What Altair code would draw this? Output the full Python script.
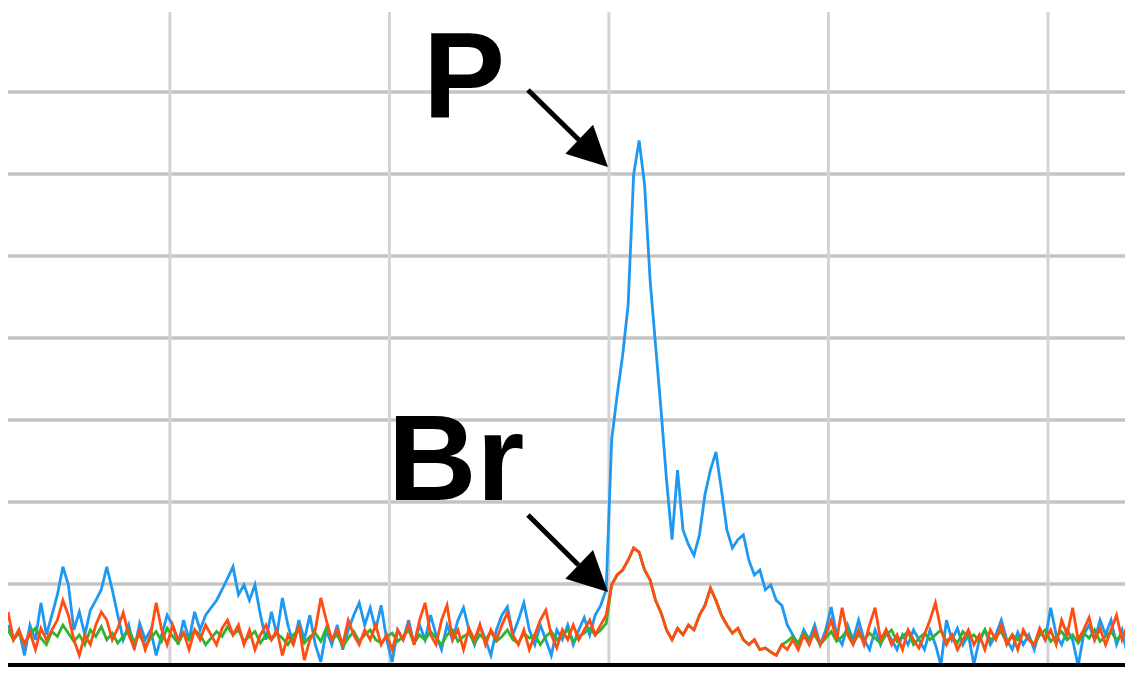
import altair as alt
import pandas as pd

# ---- series values (intensity counts), one value per scan sample ----
BLUE = [
    5.0, 3.2, 4.4, 1.3, 5.0, 3.2, 7.7, 3.8, 6.2, 8.7,
    12.1, 9.9, 4.4, 6.6, 3.8, 6.8, 8.0, 9.3, 12.1, 9.3,
    6.2, 3.2, 5.0, 2.0, 5.2, 3.2, 4.4, 1.3, 3.8, 6.2,
    5.0, 2.6, 5.6, 3.2, 6.6, 4.4, 6.2, 7.1, 8.0, 9.3,
    10.7, 12.1, 8.7, 9.9, 8.0, 9.9, 6.2, 3.2, 6.6, 3.8,
    8.3, 5.0, 2.6, 5.6, 3.2, 6.2, 2.6, 0.5, 4.4, 2.6,
    5.0, 2.0, 4.4, 6.2, 7.7, 5.0, 7.1, 4.4, 7.4, 3.2,
    0.5, 4.4, 3.2, 5.6, 2.6, 5.0, 3.2, 6.2, 3.8, 2.0,
    5.0, 3.2, 5.6, 7.1, 4.4, 2.6, 5.0, 3.2, 1.3, 4.4,
    6.2, 7.2, 3.8, 5.6, 7.7, 4.4, 2.6, 5.0, 3.2, 1.3,
    4.4, 3.2, 5.0, 2.6, 4.4, 5.9, 3.8, 6.2, 7.4, 9.3,
    27.6, 33.0, 37.9, 44.0, 59.9, 64.1, 58.7, 47.1, 39.1, 31.2,
    22.7, 15.4, 23.9, 16.6, 14.8, 13.5, 16.0, 20.9, 23.9, 26.1,
    21.5, 16.6, 14.4, 15.4, 16.0, 12.9, 11.1, 11.7, 9.3, 9.9,
    8.0, 7.4, 5.0, 3.8, 2.6, 4.4, 3.2, 5.0, 2.6, 4.4,
    7.2, 3.8, 2.6, 5.0, 3.2, 5.6, 3.2, 2.0, 4.4, 2.6,
    4.4, 3.2, 2.0, 3.8, 2.6, 4.4, 3.2, 2.0, 4.4, 2.6,
    0.1, 5.6, 3.2, 4.6, 2.6, 3.8, 0.2, 3.2, 4.4, 2.6,
    3.8, 5.6, 3.2, 2.0, 4.1, 2.6, 3.8, 2.0, 4.4, 3.2,
    7.1, 3.8, 2.6, 4.4, 3.2, 0.0, 3.8, 5.0, 3.2, 5.6,
    3.8, 5.6, 2.6, 4.4, 1.3, 5.0,
]

ORANGE = [
    6.6, 3.2, 4.4, 2.6, 4.1, 2.0, 4.6, 3.2, 4.4, 5.6,
    8.0, 6.2, 3.2, 1.3, 3.8, 2.6, 5.0, 6.6, 5.6, 3.2,
    4.6, 6.5, 3.8, 2.2, 4.4, 2.0, 3.8, 7.7, 4.4, 2.6,
    5.0, 3.2, 4.1, 2.0, 4.4, 3.2, 5.0, 3.8, 2.6, 4.6,
    5.6, 3.8, 5.0, 2.6, 4.4, 2.0, 3.8, 5.0, 3.2, 4.4,
    1.3, 3.8, 2.6, 5.0, 0.7, 3.2, 4.4, 8.3, 5.6, 3.2,
    4.4, 2.6, 5.6, 3.8, 2.6, 4.4, 3.2, 5.0, 2.6, 3.8,
    2.0, 4.4, 3.2, 5.0, 2.6, 5.6, 7.7, 3.8, 2.6, 5.6,
    7.4, 3.2, 4.4, 2.0, 4.6, 3.2, 5.0, 2.6, 4.4, 3.2,
    5.0, 6.5, 3.8, 2.6, 4.4, 2.0, 3.8, 5.6, 6.8, 3.8,
    2.2, 4.4, 3.2, 5.0, 3.2, 4.4, 5.6, 3.8, 5.0, 6.2,
    9.9, 11.1, 11.7, 12.9, 14.4, 13.9, 11.7, 10.5, 8.0, 6.5,
    4.4, 3.2, 4.6, 3.8, 5.0, 4.4, 6.2, 7.4, 9.5, 8.0,
    6.2, 5.0, 4.0, 4.6, 3.2, 2.6, 3.2, 2.0, 2.2, 1.7,
    1.3, 2.6, 2.0, 3.2, 2.0, 3.8, 2.6, 4.4, 2.6, 3.8,
    5.6, 3.2, 7.1, 3.8, 2.6, 4.4, 2.6, 5.0, 7.1, 3.2,
    4.4, 2.6, 3.8, 2.0, 4.4, 3.2, 2.2, 3.8, 5.6, 7.7,
    4.4, 2.6, 3.8, 2.0, 3.2, 4.4, 2.6, 3.8, 2.0, 4.4,
    3.2, 5.0, 2.6, 3.8, 2.0, 4.4, 3.2, 2.6, 4.6, 3.2,
    4.4, 2.6, 5.6, 3.8, 7.1, 3.2, 4.4, 5.9, 3.2, 4.6,
    2.6, 4.4, 6.2, 3.2, 5.0, 3.2,
]

GREEN = [
    4.4, 3.2, 4.0, 2.8, 3.8, 4.6, 3.4, 2.6, 4.2, 3.6,
    5.0, 4.0, 3.0, 3.8, 2.6, 4.4, 3.6, 4.8, 3.2, 4.0,
    2.8, 3.6, 4.4, 3.0, 3.8, 2.4, 3.4, 4.2, 3.0, 4.6,
    3.6, 2.8, 4.0, 3.2, 4.4, 3.8, 2.6, 3.4, 4.2, 3.6,
    4.8, 3.8, 4.4, 3.0, 3.6, 4.2, 2.8, 3.8, 3.2, 4.0,
    3.4, 2.6, 3.8, 4.4, 2.8, 3.6, 4.0, 3.0, 4.6, 3.2,
    3.8, 2.4, 3.4, 4.2, 3.0, 3.8, 4.4, 3.2, 2.8, 3.6,
    4.0, 3.0, 3.6, 4.4, 2.8, 3.8, 3.2, 4.2, 3.4, 2.6,
    3.8, 4.4, 3.0, 3.6, 4.0, 2.8, 3.8, 3.2, 4.2, 3.0,
    3.6, 4.4, 3.2, 2.8, 4.0, 3.4, 3.8, 2.6, 3.6, 4.2,
    3.2, 3.8, 4.4, 3.0, 3.6, 4.0, 4.6, 3.8, 4.4, 5.2,
    9.9, 11.1, 11.7, 12.9, 14.4, 13.9, 11.7, 10.5, 8.0, 6.5,
    4.4, 3.2, 4.6, 3.8, 5.0, 4.4, 6.2, 7.4, 9.5, 8.0,
    6.2, 5.0, 4.0, 4.6, 3.2, 2.6, 3.2, 2.0, 2.2, 1.7,
    1.3, 2.6, 3.0, 3.6, 2.8, 4.0, 3.2, 3.8, 2.6, 3.4,
    4.2, 3.0, 3.6, 4.4, 2.8, 3.8, 3.2, 4.0, 3.4, 2.8,
    3.8, 4.4, 3.0, 3.6, 4.2, 2.6, 3.4, 4.0, 3.2, 3.8,
    4.4, 3.0, 3.6, 2.8, 4.2, 3.4, 3.8, 3.0, 4.4, 3.2,
    3.6, 4.2, 2.8, 3.8, 3.2, 4.0, 3.4, 2.6, 3.8, 4.4,
    3.0, 3.6, 4.2, 3.2, 3.8, 2.8, 4.0, 3.4, 4.4, 3.0,
    3.6, 4.2, 3.2, 3.8, 4.0, 3.4,
]

# ---- grid / frame positions (data units) ----
X_GRID = [29.5, 69.5, 109.5, 149.5, 189.5]
Y_GRID = [10, 20, 30, 40, 50, 60, 70]
VGRID_TOP = 79.76
VGRID_BOTTOM = 0.37
BAR_Y = [-0.2, 0.37]

# ---- annotations ----
LABELS = ["P", "Br"]
LABEL_X = [75.6, 69.2]
LABEL_Y = [66.83, 20.24]
ARROW_X0 = [94.75, 94.75]
ARROW_Y0 = [70.24, 18.41]
ARROW_XB = [104.05, 103.95]
ARROW_YB = [64.15, 12.32]
ARROW_XT = [109.33, 109.33]
ARROW_YT = [60.85, 9.02]

X_DOMAIN = [0, 203.54]
Y_DOMAIN = [-0.122, 80.24]

xs = alt.Scale(domain=X_DOMAIN, nice=False, zero=False)
ys = alt.Scale(domain=Y_DOMAIN, nice=False, zero=False)

idx = list(range(len(BLUE)))
df_lines = pd.DataFrame({"sample": idx, "blue": BLUE, "green": GREEN, "orange": ORANGE})

hgrid = alt.Chart(pd.DataFrame({"y": Y_GRID})).mark_rule(
    color="#c4c4c4", strokeWidth=3.5
).encode(y=alt.Y("y:Q", scale=ys, axis=None))

vgrid = alt.Chart(pd.DataFrame({"x": X_GRID, "y": [VGRID_TOP] * len(X_GRID),
                                "y2": [VGRID_BOTTOM] * len(X_GRID)})).mark_rule(
    color="#d3d3d3", strokeWidth=3
).encode(x=alt.X("x:Q", scale=xs, axis=None),
         y=alt.Y("y:Q", scale=ys, axis=None), y2="y2:Q")


def series(field, color):
    return alt.Chart(df_lines).mark_line(
        color=color, strokeWidth=2.8, interpolate="linear", clip=True
    ).encode(
        x=alt.X("sample:Q", scale=xs, axis=None),
        y=alt.Y(f"{field}:Q", scale=ys, axis=None),
    )


blue = series("blue", "#1e98f0")
green = series("green", "#2eb52e")
orange = series("orange", "#ff4d14")

bar = alt.Chart(pd.DataFrame({"x": [X_DOMAIN[0]], "x2": [X_DOMAIN[1]],
                              "y": [BAR_Y[0]], "y2": [BAR_Y[1]]})).mark_rect(
    color="black", clip=True
).encode(x=alt.X("x:Q", scale=xs, axis=None), x2="x2:Q",
         y=alt.Y("y:Q", scale=ys, axis=None), y2="y2:Q")

df_arrows = pd.DataFrame({"x0": ARROW_X0, "y0": ARROW_Y0, "xb": ARROW_XB,
                          "yb": ARROW_YB, "xt": ARROW_XT, "yt": ARROW_YT})

shafts = alt.Chart(df_arrows).mark_rule(color="black", strokeWidth=5).encode(
    x=alt.X("x0:Q", scale=xs, axis=None), y=alt.Y("y0:Q", scale=ys, axis=None),
    x2="xb:Q", y2="yb:Q")

heads = alt.Chart(df_arrows).mark_point(
    shape="M0,0 L-1,-0.5 L-1,0.5 Z", filled=True, size=6400, angle=43.9,
    color="black", opacity=1, strokeWidth=0
).encode(x=alt.X("xt:Q", scale=xs, axis=None), y=alt.Y("yt:Q", scale=ys, axis=None))

labels = alt.Chart(pd.DataFrame({"x": LABEL_X, "y": LABEL_Y, "t": LABELS})).mark_text(
    align="left", baseline="alphabetic", font="Liberation Sans", fontWeight="bold",
    fontSize=123, color="black"
).encode(x=alt.X("x:Q", scale=xs, axis=None), y=alt.Y("y:Q", scale=ys, axis=None),
         text="t:N")

chart = alt.layer(hgrid, vgrid, blue, green, orange, bar, shafts, heads, labels).properties(
    width=1117, height=659, padding=0, autosize="none", background="white"
).configure_view(stroke="transparent", strokeWidth=0)

chart.save("out.html", embed_options={"renderer": "svg", "actions": False})
